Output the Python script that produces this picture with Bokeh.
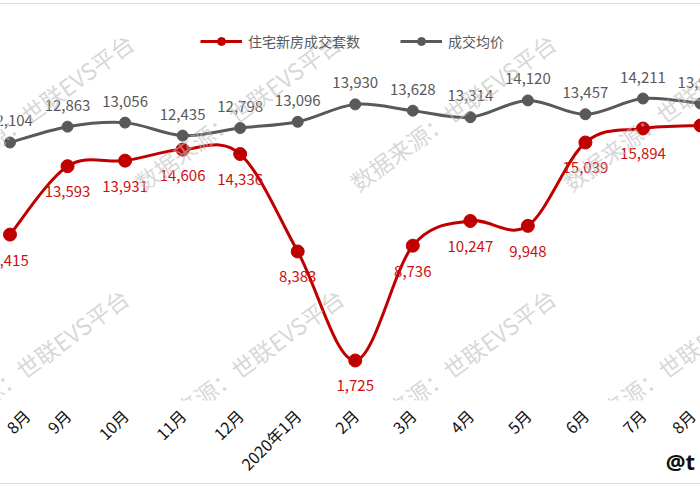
import math
from bokeh.plotting import figure
from bokeh.models import (Range1d, FixedTicker, Label, Legend, LegendItem,
                          ColumnDataSource)
from bokeh.core.properties import value
from bokeh.embed import file_html
from bokeh.resources import INLINE

# ---------------- data ----------------
months = ["8月", "9月", "10月", "11月", "12月", "2020年1月", "2月",
          "3月", "4月", "5月", "6月", "7月", "8月"]
units_sold = [9415, 13593, 13931, 14606, 14336, 8383, 1725,
              8736, 10247, 9948, 15039, 15894, 16077]
avg_price = [12104, 12863, 13056, 12435, 12798, 13096, 13930,
             13628, 13314, 14120, 13457, 14211, 13970]
series_names = ["住宅新房成交套数", "成交均价"]

# ---------------- style ----------------
RED = "#C00000"
RED_TXT = "#CC1010"
GRAY = "#595959"
FONT = "Noto Sans CJK SC"

W, H = 700, 481
FRAME_TOP = 4          # page y of frame top
FRAME_BOT = 400        # page y of frame bottom
FRAME_H = FRAME_BOT - FRAME_TOP
XS, XE = -0.165, 12.0
YR = (-718, 23467)
YP = (-252, 18713)

p = figure(width=W, height=H, output_backend="svg", toolbar_location=None,
           x_range=Range1d(XS, XE), y_range=Range1d(*YR),
           y_axis_location=None,
           min_border_left=0, min_border_right=0, min_border_top=0,
           min_border_bottom=H - FRAME_H)
p.extra_y_ranges = {"price": Range1d(*YP)}
p.outline_line_color = None
p.grid.visible = False
p.background_fill_color = "white"
p.border_fill_color = "white"
p.styles = {"margin-top": "3px",
            "border-top": "1px solid #d9d9d9",
            "border-bottom": "1px solid #d9d9d9"}

xs = list(range(len(months)))

ax = p.xaxis[0]
ax.ticker = FixedTicker(ticks=xs)
ax.major_label_overrides = {i: m for i, m in enumerate(months)}
ax.major_label_orientation = math.pi / 4
ax.axis_line_color = None
ax.major_tick_line_color = None
ax.minor_tick_line_color = None
ax.major_label_text_font = FONT
ax.major_label_text_font_size = "16px"
ax.major_label_text_color = "#111111"
ax.major_label_standoff = 6
# corner mark shown at the bottom right
ax.axis_label = "@t" + "\u00a0" * 7
ax.axis_label_align = "end"
ax.axis_label_standoff = -40
ax.axis_label_text_font = "Noto Sans"
ax.axis_label_text_font_style = "bold"
ax.axis_label_text_font_size = "22px"
ax.axis_label_text_color = "#111111"


# ---------------- helpers: page pixel -> data ----------------
def px_x(px):
    return XS + px / W * (XE - XS)


def px_y(py):
    return YR[0] + (FRAME_BOT - py) / FRAME_H * (YR[1] - YR[0])


# ---------------- watermarks ----------------
wm_text = "数据来源：世联EVS平台"
WM_STYLE = dict(angle=36, angle_units="deg", text_font=FONT,
                text_font_size="23px", text_color="#bdbdbd", text_alpha=0.6)
for px in [-60, 147, 362, 575]:
    p.add_layout(Label(x=px_x(px), y=px_y(198), text=wm_text, **WM_STYLE))
for px in [-65, 150, 362, 577]:
    p.add_layout(Label(x=px, y=448, x_units="canvas", y_units="canvas",
                       text=wm_text, **WM_STYLE))


# ---------------- smoothed lines ----------------
def smooth(xv, yv):
    n = len(xv)
    d = dict(x0=[], y0=[], x1=[], y1=[], cx0=[], cy0=[], cx1=[], cy1=[])
    for i in range(n - 1):
        im, ip = max(i - 1, 0), min(i + 2, n - 1)
        d["x0"].append(xv[i]); d["y0"].append(yv[i])
        d["x1"].append(xv[i + 1]); d["y1"].append(yv[i + 1])
        d["cx0"].append(xv[i] + (xv[i + 1] - xv[im]) / 6)
        d["cy0"].append(yv[i] + (yv[i + 1] - yv[im]) / 6)
        d["cx1"].append(xv[i + 1] - (xv[ip] - xv[i]) / 6)
        d["cy1"].append(yv[i + 1] - (yv[ip] - yv[i]) / 6)
    return ColumnDataSource(d)


p.bezier(x0="x0", y0="y0", x1="x1", y1="y1", cx0="cx0", cy0="cy0",
         cx1="cx1", cy1="cy1", source=smooth(xs, avg_price),
         line_color=GRAY, line_width=3, y_range_name="price")
p.scatter(xs, avg_price, size=11, fill_color=GRAY, line_color=GRAY,
          y_range_name="price")

p.bezier(x0="x0", y0="y0", x1="x1", y1="y1", cx0="cx0", cy0="cy0",
         cx1="cx1", cy1="cy1", source=smooth(xs, units_sold),
         line_color=RED, line_width=3)
p.scatter(xs, units_sold, size=13, fill_color=RED, line_color=RED)

# ---------------- data labels ----------------
price_src = ColumnDataSource(dict(x=xs, y=avg_price,
                                  t=[f"{v:,}" for v in avg_price]))
p.text(x="x", y="y", text="t", source=price_src, y_range_name="price",
       text_align="center", text_baseline="bottom", y_offset=-16,
       text_color=GRAY, text_font=value(FONT), text_font_size="15px")

n_lab = len(units_sold) - 1
units_src = ColumnDataSource(dict(x=xs[:n_lab], y=units_sold[:n_lab],
                                  t=[f"{v:,}" for v in units_sold[:n_lab]]))
p.text(x="x", y="y", text="t", source=units_src,
       text_align="center", text_baseline="top", y_offset=20,
       text_color=RED_TXT, text_font=value(FONT), text_font_size="15px")

# ---------------- legend ----------------
nan = float("nan")
lr1 = p.line([nan], [nan], line_color=RED, line_width=3)
ls1 = p.scatter([nan], [nan], size=11, fill_color=RED, line_color=RED)
lr2 = p.line([nan], [nan], line_color=GRAY, line_width=3)
ls2 = p.scatter([nan], [nan], size=8, fill_color=GRAY, line_color=GRAY)
legend = Legend(items=[LegendItem(label=series_names[0], renderers=[lr1, ls1]),
                       LegendItem(label=series_names[1], renderers=[lr2, ls2])],
                orientation="horizontal", location=(200, 349),
                padding=0, margin=0, spacing=40, glyph_width=42,
                glyph_height=20, label_standoff=6,
                label_text_font=FONT, label_text_font_size="14px",
                label_text_color=GRAY, background_fill_alpha=0,
                border_line_color=None)
p.add_layout(legend)

open("out.html", "w").write(file_html(p, INLINE))
